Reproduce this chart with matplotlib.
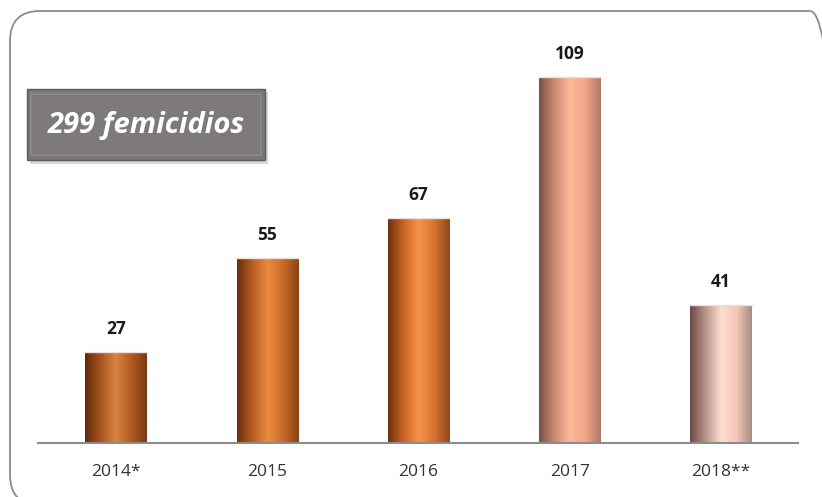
import numpy as np
import matplotlib
matplotlib.use("Agg")
import matplotlib.pyplot as plt
from matplotlib.patches import FancyBboxPatch, Rectangle
from matplotlib.colors import LinearSegmentedColormap
from matplotlib.transforms import IdentityTransform

categories = ["2014*", "2015", "2016", "2017", "2018**"]
values = [27, 55, 67, 109, 41]
total_label = "299 femicidios"

# gradient stops per bar: (left edge, middle-light, right edge)
bar_grads = [
    ["#5E2A0C", "#A8541E", "#D98342", "#B05A22", "#7A3A14"],
    ["#6A2E0E", "#B85E22", "#EC8A40", "#C86A2A", "#8A4216"],
    ["#6E300E", "#C86424", "#F7934A", "#D87430", "#90461A"],
    ["#7A5044", "#C88A72", "#FDB898", "#F2A688", "#B07868"],
    ["#6A4A42", "#B8948A", "#FCDCD0", "#F4C8BA", "#A88A82"],
]

W, H = 822, 497
fig = plt.figure(figsize=(W / 100, H / 100), dpi=100)
fig.patch.set_facecolor("white")

# outer rounded border (pixel coordinates)
border = FancyBboxPatch((10, -8), 830, H - 11 + 8,
                        boxstyle="round,pad=0,rounding_size=30",
                        transform=IdentityTransform(), facecolor="none",
                        edgecolor="#8C8C8C", linewidth=1.3, zorder=-1)
fig.patches.append(border)

ax_left, ax_right = 38 / W, 798 / W
ax_bottom, ax_top = (H - 443) / H, (H - 40) / H
ax = fig.add_axes([ax_left, ax_bottom, ax_right - ax_left, ax_top - ax_bottom])
ax.set_facecolor("none")

x = np.arange(len(categories))
bars = ax.bar(x, values, width=0.405, color="none", edgecolor="none", zorder=2)

grad = np.linspace(0, 1, 256).reshape(1, -1)
for b, stops in zip(bars, bar_grads):
    cmap = LinearSegmentedColormap.from_list("g", stops)
    x0, w, h = b.get_x(), b.get_width(), b.get_height()
    im = ax.imshow(grad, cmap=cmap, aspect="auto",
                   extent=(x0, x0 + w, 0, h), zorder=2, interpolation="bicubic")
    clip = Rectangle((x0, 0), w, h, transform=ax.transData)
    im.set_clip_path(clip)
    ax.plot([x0, x0 + w], [h, h], color="#E8E0DA", lw=1, zorder=3)

ax.set_xlim(-0.516, 4.51)
ax.set_ylim(0, 403 / 3.36)

for xi, v in zip(x, values):
    ax.text(xi, v + 4.2, str(v), ha="center", va="bottom",
            fontsize=12.5, fontweight="bold", color="#1A1A1A",
            family=["Open Sans", "DejaVu Sans"])

for s in ["top", "right", "left"]:
    ax.spines[s].set_visible(False)
ax.spines["bottom"].set_color("#8C8C8C")
ax.spines["bottom"].set_linewidth(1.5)
ax.set_yticks([])
ax.set_xticks(x)
ax.set_xticklabels(categories, fontsize=12.5, color="#333333",
                   family=["Open Sans", "DejaVu Sans"])
ax.tick_params(axis="x", length=0, pad=15)

# title box
shadow = Rectangle((30 / W, (H - 164) / H), 238 / W, 72 / H,
                   transform=fig.transFigure, facecolor="#BDBDBD",
                   edgecolor="none", alpha=0.6, zorder=5)
fig.patches.append(shadow)
box = Rectangle((27 / W, (H - 160) / H), 238 / W, 71 / H,
                transform=fig.transFigure, facecolor="#7A7676",
                edgecolor="#5E5A5A", linewidth=1, zorder=6)
fig.patches.append(box)
bevel = Rectangle((31 / W, (H - 155) / H), 230 / W, 61 / H,
                  transform=fig.transFigure, facecolor="#7E7A7A",
                  edgecolor="#8E8A8A", linewidth=1.2, zorder=6)
fig.patches.append(bevel)
fig.text(146 / W, (H - 126) / H, total_label, ha="center", va="center",
         fontsize=21, fontstyle="italic", fontweight="bold", color="white",
         family=["Open Sans", "DejaVu Sans"], zorder=7)

fig.savefig("out.png", dpi=100, facecolor="white")
